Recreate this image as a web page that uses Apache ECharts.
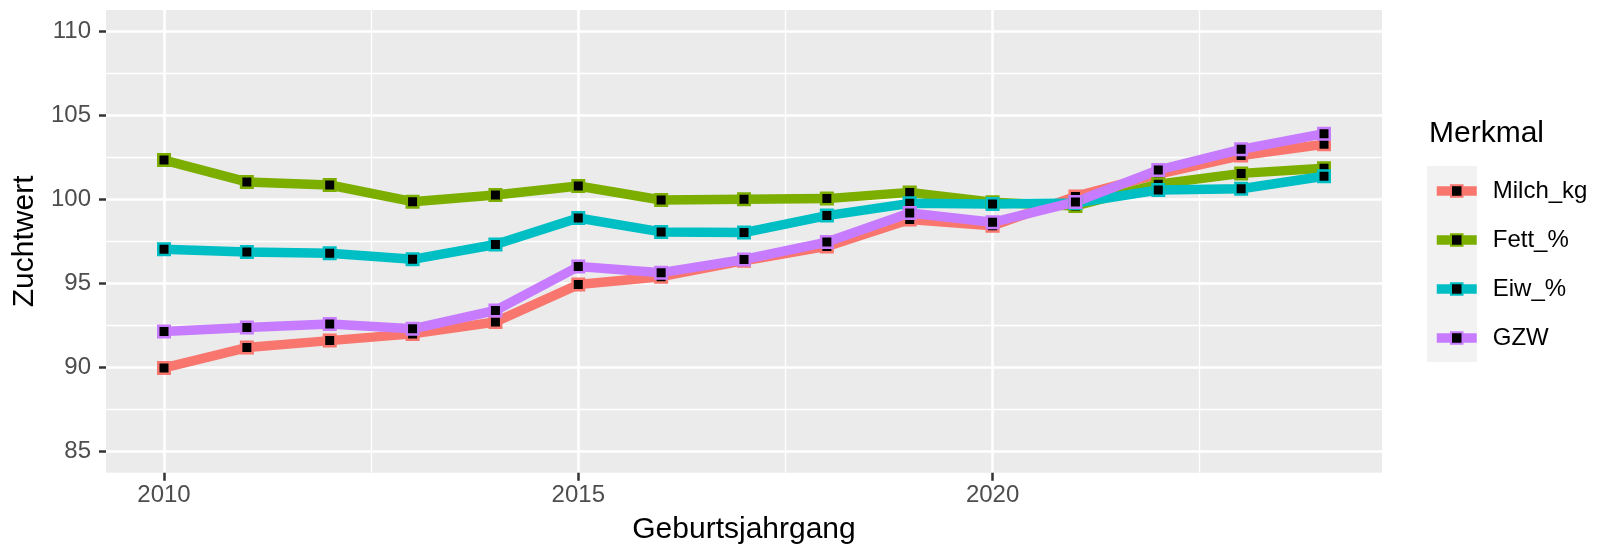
<!DOCTYPE html>
<html>
<head>
<meta charset="utf-8">
<script src="https://cdn.jsdelivr.net/npm/echarts@6/dist/echarts.min.js"></script>
<style>
html,body{margin:0;padding:0;background:#fff;}
#chart{width:1600px;height:554px;}
</style>
</head>
<body>
<div id="chart"></div>
<script>
const years = [2010, 2011, 2012, 2013, 2014, 2015, 2016, 2017, 2018, 2019, 2020, 2021, 2022, 2023, 2024];
const seriesNames = ['Milch_kg', 'Fett_%', 'Eiw_%', 'GZW'];
const milchKg = [89.98, 91.19, 91.60, 92.00, 92.71, 94.93, 95.40, 96.35, 97.20, 98.80, 98.43, 100.17, 101.49, 102.60, 103.27];
const fettPct = [102.33, 101.03, 100.85, 99.86, 100.26, 100.79, 99.96, 100.00, 100.04, 100.41, 99.82, 99.60, 100.90, 101.54, 101.84];
const eiwPct = [97.03, 96.87, 96.79, 96.43, 97.31, 98.89, 98.06, 98.02, 99.03, 99.76, 99.72, 99.78, 100.55, 100.63, 101.37];
const gzw = [92.14, 92.38, 92.59, 92.30, 93.39, 96.00, 95.64, 96.42, 97.46, 99.18, 98.63, 99.84, 101.74, 102.97, 103.90];
const yTicks = [85, 90, 95, 100, 105, 110];
const yMinor = [87.5, 92.5, 97.5, 102.5, 107.5];
const xTicks = [2010, 2015, 2020];
const xMinor = [2012.5, 2017.5, 2022.5];

const values = [milchKg, fettPct, eiwPct, gzw];
const colors = ['#F8766D', '#7CAE00', '#00BFC4', '#C77CFF'];
const FONT = '"Liberation Sans", Arial, sans-serif';

function pairs(v) { return years.map((y, i) => [y, v[i]]); }

const series = [];
seriesNames.forEach((name, i) => {
  series.push({
    name: name, type: 'line', data: pairs(values[i]),
    xAxisIndex: 0, yAxisIndex: 0,
    symbol: 'rect', symbolSize: 11.5, showSymbol: false,
    lineStyle: { color: colors[i], width: 9.5 },
    itemStyle: { color: '#000', borderColor: colors[i], borderWidth: 2.5 },
    z: 2, silent: true, animation: false
  });
});
seriesNames.forEach((name, i) => {
  series.push({
    name: name, type: 'scatter', data: pairs(values[i]),
    xAxisIndex: 0, yAxisIndex: 0,
    symbol: 'rect', symbolSize: 11.5,
    itemStyle: { color: '#000', borderColor: colors[i], borderWidth: 2.5, opacity: 1 },
    z: 3, silent: true, animation: false
  });
});

const chart = echarts.init(document.getElementById('chart'), null, { renderer: 'canvas' });
chart.setOption({
  animation: false,
  textStyle: { fontFamily: FONT },
  title: {
    text: 'Merkmal', left: 1429, top: 119, padding: 0,
    textStyle: { fontFamily: FONT, fontSize: 30, fontWeight: 'normal', color: '#000' }
  },
  graphic: [{
    type: 'rect', left: 1427, top: 166, z: 0,
    shape: { width: 50, height: 196 },
    style: { fill: '#F2F2F2' }
  }],
  legend: {
    data: seriesNames,
    orient: 'vertical', left: 1432, top: 179, padding: 0,
    itemWidth: 40, itemHeight: 14.4, itemGap: 25,
    selectedMode: false,
    lineStyle: { width: 9.5 },
    textStyle: { fontFamily: FONT, fontSize: 24, color: '#000', padding: [0, 0, 0, 11] }
  },
  grid: {
    left: 106, right: 218, top: 10, bottom: 81.3,
    show: true, backgroundColor: '#EBEBEB', borderWidth: 0
  },
  xAxis: [{
    type: 'value', min: 2009.3, max: 2024.7,
    name: 'Geburtsjahrgang', nameLocation: 'middle', nameGap: 42,
    nameTextStyle: { fontFamily: FONT, fontSize: 30, color: '#000' },
    axisLine: { show: false },
    axisTick: { show: true, customValues: xTicks, length: 8, lineStyle: { color: '#333', width: 2.5 } },
    axisLabel: { customValues: xTicks, fontFamily: FONT, fontSize: 24, color: '#4D4D4D', margin: 11, formatter: v => String(v) },
    splitLine: { show: true, lineStyle: { color: '#fff', width: 2.6 } }
  }, {
    type: 'value', min: 2009.3, max: 2024.7, position: 'bottom',
    axisLine: { show: false },
    axisTick: { show: false, customValues: xMinor },
    axisLabel: { show: false, customValues: xMinor },
    splitLine: { show: true, lineStyle: { color: '#fff', width: 1.3 } }
  }],
  yAxis: [{
    type: 'value', min: 83.75, max: 111.25,
    name: 'Zuchtwert', nameLocation: 'middle', nameGap: 66, nameRotate: 90,
    nameTextStyle: { fontFamily: FONT, fontSize: 30, color: '#000' },
    axisLine: { show: false },
    axisTick: { show: true, customValues: yTicks, length: 7, lineStyle: { color: '#333', width: 2.5 } },
    axisLabel: { customValues: yTicks, fontFamily: FONT, fontSize: 24, color: '#4D4D4D', margin: 15 },
    splitLine: { show: true, lineStyle: { color: '#fff', width: 2.6 } }
  }, {
    type: 'value', min: 83.75, max: 111.25, position: 'right',
    axisLine: { show: false },
    axisTick: { show: false, customValues: yMinor },
    axisLabel: { show: false, customValues: yMinor },
    splitLine: { show: true, lineStyle: { color: '#fff', width: 1.3 } }
  }],
  series: series
});
</script>
</body>
</html>
